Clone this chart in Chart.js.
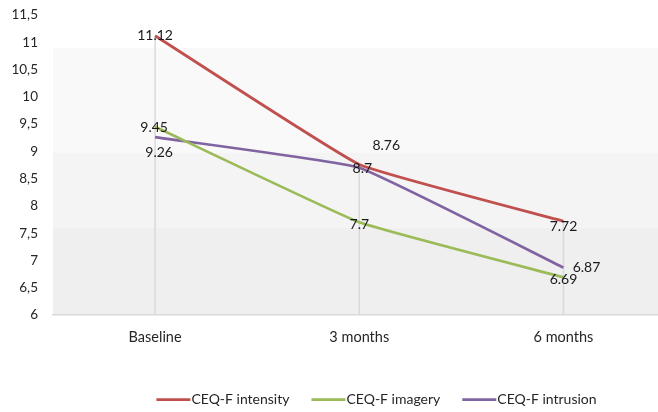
<!DOCTYPE html>
<html>
<head>
<meta charset="utf-8">
<script src="https://cdn.jsdelivr.net/npm/chart.js@4/dist/chart.umd.min.js"></script>
<style>
  html, body { margin: 0; padding: 0; background: #ffffff; }
  #wrap { width: 658px; height: 412px; }
</style>
</head>
<body>
<div id="wrap"><canvas id="c" width="658" height="412"></canvas></div>
<script>
// Time points and CEQ-F subscale means
const categories = ['Baseline', '3 months', '6 months'];
const intensity = [11.12, 8.76, 7.72];
const imagery = [9.45, 7.7, 6.69];
const intrusion = [9.26, 8.7, 6.87];
const seriesNames = ['CEQ-F intensity', 'CEQ-F imagery', 'CEQ-F intrusion'];
const yTickValues = [6, 6.5, 7, 7.5, 8, 8.5, 9, 9.5, 10, 10.5, 11, 11.5];

// Value labels are nudged off their points so they don't collide (pixels)
const labelNudge = [
  [[0, 0], [27, -19], [0, 5]],
  [[-1, 1], [0, 2.5], [0, 2]],
  [[4, 15], [3, 0.5], [23, 0]]
];
const colors = ['#c0504d', '#9bbb59', '#8064a2'];
// Plot backdrop shading, as value bands from top to bottom
const bandEdges = [10.9, 8.98, 7.6];
const bandFills = ['#ffffff', '#f9f9f9', '#f4f4f4', '#efefef'];

const FONT = 'Lato, "Open Sans", sans-serif';
const TEXT = '#262626';

const decorations = {
  id: 'decorations',
  beforeDraw(chart) {
    const { ctx, chartArea: a, scales: { y } } = chart;
    const edges = [a.top, ...bandEdges.map(v => y.getPixelForValue(v)), a.bottom];
    ctx.save();
    for (let i = 0; i < bandFills.length; i++) {
      ctx.fillStyle = bandFills[i];
      ctx.fillRect(a.left, edges[i], a.right - a.left, edges[i + 1] - edges[i]);
    }
    ctx.restore();
  },
  beforeDatasetsDraw(chart) {
    // drop lines from the highest value of each time point to the axis
    const { ctx, chartArea: a, scales: { x, y } } = chart;
    const all = [intensity, imagery, intrusion];
    ctx.save();
    ctx.strokeStyle = '#d9d9d9';
    ctx.lineWidth = 1.5;
    categories.forEach((c, i) => {
      const top = Math.max(...all.map(s => s[i]));
      const px = x.getPixelForValue(i);
      ctx.beginPath();
      ctx.moveTo(px, y.getPixelForValue(top));
      ctx.lineTo(px, a.bottom);
      ctx.stroke();
    });
    ctx.restore();
  },
  afterDatasetsDraw(chart) {
    const { ctx } = chart;
    ctx.save();
    ctx.font = '14px ' + FONT;
    ctx.fillStyle = '#1a1a1a';
    ctx.textAlign = 'center';
    ctx.textBaseline = 'middle';
    chart.data.datasets.forEach((ds, di) => {
      const meta = chart.getDatasetMeta(di);
      meta.data.forEach((pt, i) => {
        const [dx, dy] = labelNudge[di][i];
        ctx.fillText(String(ds.data[i].y), pt.x + dx, pt.y + dy);
      });
    });
    ctx.restore();
  },
  afterDraw(chart) {
    // series key beneath the axis: swatch line butting against its label
    const { ctx, chartArea: a } = chart;
    const swatch = 34, gap = 1, spacing = 22, centre = 376.5;
    const yMid = a.bottom + 84.5;
    ctx.save();
    ctx.font = '14px ' + FONT;
    ctx.textBaseline = 'middle';
    ctx.textAlign = 'left';
    const items = chart.data.datasets.map(ds => ({
      label: ds.label, color: ds.borderColor, w: ctx.measureText(ds.label).width
    }));
    const total = items.reduce((s, it) => s + swatch + gap + it.w, 0) + spacing * (items.length - 1);
    let x = centre - total / 2;
    items.forEach(it => {
      ctx.strokeStyle = it.color;
      ctx.lineWidth = 2.75;
      ctx.beginPath();
      ctx.moveTo(x, yMid);
      ctx.lineTo(x + swatch, yMid);
      ctx.stroke();
      ctx.fillStyle = TEXT;
      ctx.fillText(it.label, x + swatch + gap, yMid);
      x += swatch + gap + it.w + spacing;
    });
    ctx.restore();
  }
};

const mk = (label, vals, color) => ({
  label,
  data: vals.map((v, i) => ({ x: i, y: v })),
  borderColor: color,
  backgroundColor: color,
  borderWidth: 2.75,
  pointRadius: 0,
  pointHoverRadius: 0,
  tension: 0.1,
  fill: false
});

new Chart(document.getElementById('c'), {
  type: 'line',
  data: {
    datasets: [
      mk(seriesNames[0], intensity, colors[0]),
      mk(seriesNames[1], imagery, colors[1]),
      mk(seriesNames[2], intrusion, colors[2])
    ]
  },
  plugins: [decorations],
  options: {
    responsive: false,
    animation: false,
    events: [],
    layout: { padding: { top: 15, right: 0, bottom: 0, left: 0 } },
    scales: {
      x: {
        type: 'linear',
        min: -0.5,
        max: 2.463,
        afterBuildTicks(s) { s.ticks = categories.map((c, i) => ({ value: i })); },
        afterFit(s) { s.height = 97; },
        ticks: {
          callback: v => categories[v] ?? '',
          color: TEXT,
          font: { family: FONT, size: 14.5 },
          padding: 14,
          maxRotation: 0,
          autoSkip: false
        },
        grid: { display: false, drawTicks: false },
        border: { display: true, color: '#d9d9d9', width: 1.5 }
      },
      y: {
        min: 6,
        max: 11.5,
        afterBuildTicks(s) { s.ticks = yTickValues.map(v => ({ value: v })); },
        afterFit(s) { s.width = 53; s.paddingTop = 0; },
        ticks: {
          callback: v => String(v).replace('.', ','),
          color: TEXT,
          font: { family: FONT, size: 13.5 },
          padding: 15
        },
        grid: { display: false, drawTicks: false },
        border: { display: false }
      }
    },
    plugins: {
      legend: { display: false },
      tooltip: { enabled: false }
    }
  }
});
</script>
</body>
</html>
